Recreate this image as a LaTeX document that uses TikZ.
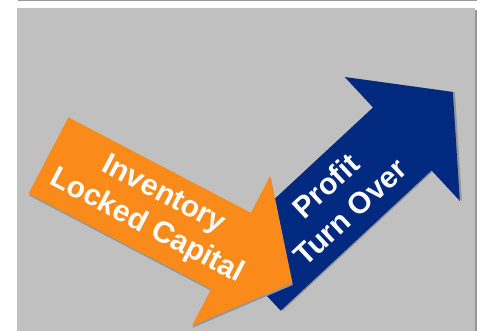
\documentclass[tikz,border=0pt]{standalone}
\usepackage{fontspec}
\setmainfont{Liberation Sans}
\definecolor{bggray}{RGB}{192,192,192}
\definecolor{shadowgray}{RGB}{150,150,150}
\definecolor{linegray}{RGB}{153,153,153}
\definecolor{arroworange}{RGB}{250,139,26}
\definecolor{arrowblue}{RGB}{0,41,127}
\tikzset{
  arrowlabel/.style={text=white, font=\bfseries\fontsize{30}{36}\selectfont, align=center, inner sep=0pt},
}
\newcommand{\bigarrowpath}{(0,43) -- (206,43) -- (206,84.5) -- (275,0) -- (206,-84.5) -- (206,-43) -- (0,-43) -- cycle}
\begin{document}
\begin{tikzpicture}[x=1pt,y=1pt]
\useasboundingbox (0,0) rectangle (477,331);
\fill[white] (0,0) rectangle (477,331);
% top rule
\fill[linegray] (18,330) rectangle (477,331);
% background panel
\fill[bggray] (17,0) rectangle (475,323);
\fill[shadowgray] (475,0) rectangle (477,321);
% blue arrow
\begin{scope}[shift={(251.4,51.8)}, rotate=42.9]
  \fill[shadowgray] [shift={(1.5,-1.5)}] \bigarrowpath;
  \fill[arrowblue] \bigarrowpath;
  \node[arrowlabel, rotate=42.9] (profit) at (118,0) {Profit\\Turn Over};
\end{scope}
% orange arrow
\begin{scope}[shift={(48.5,175.5)}, rotate=-27.6]
  \fill[shadowgray] [shift={(1.5,-1.5)}] \bigarrowpath;
  \fill[arroworange] \bigarrowpath;
  \node[arrowlabel, rotate=-27.6] (inventory) at (120,0) {Inventory\\Locked Capital};
\end{scope}
\end{tikzpicture}
\end{document}
